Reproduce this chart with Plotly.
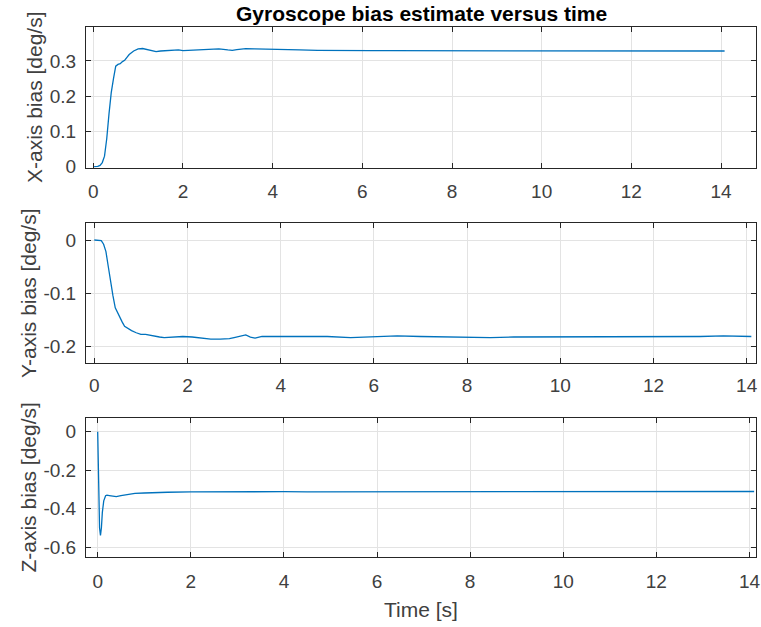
import plotly.graph_objects as go

# ---------------- data ----------------
t_x = [0, 0.05, 0.1, 0.15, 0.2, 0.25, 0.3, 0.35, 0.4, 0.45, 0.5, 0.55, 0.6, 0.65, 0.7, 0.75,
       0.8, 0.9, 1.0, 1.1, 1.2, 1.3, 1.4, 1.5, 1.7, 1.9, 2.0, 2.2, 2.4, 2.6, 2.8, 3.0, 3.1,
       3.2, 3.4, 3.6, 3.8, 4.0, 4.3, 4.6, 5.0, 5.4, 5.8, 6.2, 6.6, 7.0, 7.4, 7.8, 8.2, 8.6,
       9.0, 9.4, 9.8, 10.2, 10.6, 11.0, 11.4, 11.8, 12.2, 12.6, 13.0, 13.4, 13.8, 14.08]
bias_x = [0, 0, 0.001, 0.004, 0.012, 0.03, 0.08, 0.15, 0.21, 0.25, 0.285, 0.29, 0.292, 0.298,
          0.302, 0.31, 0.318, 0.328, 0.334, 0.335, 0.332, 0.328, 0.326, 0.328, 0.330, 0.331,
          0.329, 0.330, 0.333, 0.334, 0.334, 0.331, 0.330, 0.332, 0.335, 0.334, 0.333, 0.333,
          0.332, 0.331, 0.330, 0.329, 0.329, 0.329, 0.329, 0.329, 0.328, 0.327, 0.327, 0.328,
          0.328, 0.328, 0.329, 0.329, 0.328, 0.329, 0.329, 0.328, 0.329, 0.329, 0.329, 0.328,
          0.329, 0.328]

t_y = [0, 0.1, 0.15, 0.2, 0.25, 0.3, 0.35, 0.4, 0.45, 0.5, 0.55, 0.6, 0.65, 0.7, 0.8, 0.9,
       1.0, 1.1, 1.2, 1.3, 1.4, 1.5, 1.7, 1.9, 2.1, 2.3, 2.5, 2.7, 2.9, 3.0, 3.1, 3.25, 3.35,
       3.45, 3.6, 3.8, 4.0, 4.5, 5.0, 5.5, 6.0, 6.5, 7.0, 7.5, 8.0, 8.5, 9.0, 9.5, 10, 10.5,
       11, 11.5, 12, 12.5, 13, 13.5, 14.1]
bias_y = [0, 0, -0.001, -0.008, -0.022, -0.05, -0.08, -0.105, -0.128, -0.138, -0.145, -0.155,
          -0.163, -0.166, -0.171, -0.175, -0.178, -0.178, -0.180, -0.181, -0.183, -0.184,
          -0.183, -0.182, -0.183, -0.185, -0.187, -0.187, -0.186, -0.184, -0.182, -0.179,
          -0.183, -0.185, -0.182, -0.182, -0.181, -0.181, -0.182, -0.184, -0.183, -0.181,
          -0.182, -0.183, -0.184, -0.184, -0.183, -0.183, -0.182, -0.182, -0.182, -0.182,
          -0.182, -0.182, -0.182, -0.181, -0.182]

t_z = [0, 0.02, 0.04, 0.06, 0.08, 0.1, 0.13, 0.17, 0.2, 0.25, 0.3, 0.35, 0.4, 0.5, 0.6, 0.7,
       0.8, 1.0, 1.2, 1.5, 2.0, 2.5, 3.0, 3.5, 4.0, 4.5, 5.0, 5.5, 6.0, 7.0, 8.0, 9.0, 10.0,
       11.0, 12.0, 13.0, 14.1]
bias_z = [0, -0.25, -0.5, -0.54, -0.5, -0.42, -0.36, -0.333, -0.33, -0.332, -0.335, -0.338,
          -0.338, -0.333, -0.328, -0.324, -0.321, -0.319, -0.317, -0.315, -0.313, -0.312,
          -0.311, -0.311, -0.312, -0.313, -0.313, -0.312, -0.312, -0.312, -0.312, -0.312,
          -0.312, -0.312, -0.311, -0.311, -0.311]

x_ticks = [0, 2, 4, 6, 8, 10, 12, 14]
y_ticks_x = [0, 0.1, 0.2, 0.3]
y_ticks_y = [-0.2, -0.1, 0]
y_ticks_z = [-0.6, -0.4, -0.2, 0]
y_ticktext_x = ["0", "0.1", "0.2", "0.3"]
y_ticktext_y = ["-0.2", "-0.1", "0"]
y_ticktext_z = ["-0.6", "-0.4", "-0.2", "0"]

title_text = "Gyroscope bias estimate versus time"
y_labels = ["X-axis bias [deg/s]", "Y-axis bias [deg/s]", "Z-axis bias [deg/s]"]
x_label = "Time [s]"

# ---------------- layout geometry ----------------
W, H = 761, 627
ML, MR, MT, MB = 86, 5, 27, 70
PH = H - MT - MB

def dom(top_px, bot_px):
    return [1 - (bot_px - MT) / PH, 1 - (top_px - MT) / PH]

LINE = "#0072BD"
AX = "#262626"
TXT = "#404040"
GRID = "#e3e3e3"
FONT = "Liberation Sans, Arial, sans-serif"
TICK_SIZE = 19
LABEL_SIZE = 21

fig = go.Figure()
series = [(t_x, bias_x), (t_y, bias_y), (t_z, bias_z)]
for i, (tt, vv) in enumerate(series):
    sfx = "" if i == 0 else str(i + 1)
    fig.add_trace(go.Scatter(x=tt, y=vv, mode="lines", line=dict(color=LINE, width=1.3),
                             xaxis="x" + sfx, yaxis="y" + sfx, showlegend=False))

common_x = dict(tickvals=x_ticks, ticks="inside", ticklen=5, tickcolor=AX, showline=True,
                linecolor=AX, linewidth=1, mirror="allticks", showgrid=True, gridcolor=GRID,
                zeroline=False, automargin=False,
                tickfont=dict(family=FONT, size=TICK_SIZE, color=TXT))
common_y = dict(ticks="inside", ticklen=5, tickcolor=AX, showline=True, linecolor=AX,
                linewidth=1, mirror="allticks", showgrid=True, gridcolor=GRID, zeroline=False,
                automargin=False, ticklabelstandoff=5,
                tickfont=dict(family=FONT, size=TICK_SIZE, color=TXT),
                title_font=dict(family=FONT, size=LABEL_SIZE, color=TXT), title_standoff=1)

doms = [dom(27, 167.5), dom(223.3, 363.3), dom(417.7, 557)]
xranges = [[-0.163, 14.78], [-0.178, 14.20], [-0.251, 14.14]]
xstand = [7, 5, 7]
yranges = [[-0.002, 0.396], [-0.2326, 0.0315], [-0.652, 0.073]]
yticks = [y_ticks_x, y_ticks_y, y_ticks_z]
ytext = [y_ticktext_x, y_ticktext_y, y_ticktext_z]

layout = dict(width=W, height=H,
              margin=dict(l=ML, r=MR, t=MT, b=MB, autoexpand=False),
              plot_bgcolor="white", paper_bgcolor="white", font=dict(family=FONT, color=AX))
for i in range(3):
    sfx = "" if i == 0 else str(i + 1)
    xa = dict(common_x, domain=[0, 1], range=xranges[i], anchor="y" + sfx,
              ticklabelstandoff=xstand[i])
    if i == 2:
        xa["title"] = dict(text=x_label, font=dict(family=FONT, size=LABEL_SIZE, color=TXT),
                           standoff=11)
    ya = dict(common_y, domain=doms[i], range=yranges[i], anchor="x" + sfx,
              tickvals=yticks[i], ticktext=ytext[i], title_text=y_labels[i])
    layout["xaxis" + sfx] = xa
    layout["yaxis" + sfx] = ya

fig.update_layout(**layout)
fig.add_annotation(text="<b>" + title_text + "</b>", xref="paper", yref="paper", x=0.5, y=1,
                   yanchor="bottom", yshift=0, showarrow=False,
                   font=dict(family=FONT, size=LABEL_SIZE, color="#000000"))

fig.write_html("out.html", config={"displayModeBar": False},
               post_script="document.body.style.margin='0px';document.body.style.overflow='hidden';")
